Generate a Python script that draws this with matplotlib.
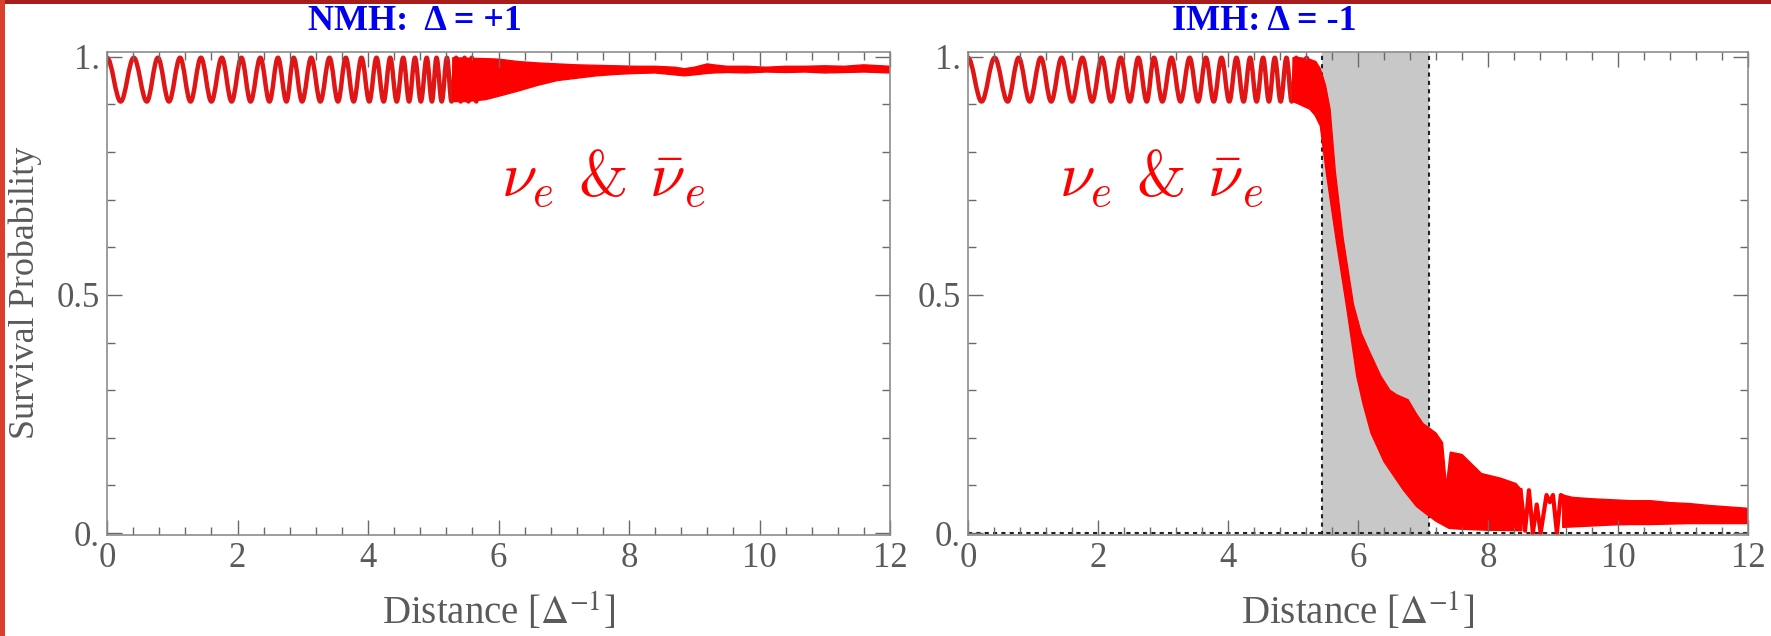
import numpy as np
import matplotlib.pyplot as plt
from matplotlib.patches import Rectangle, PathPatch
from matplotlib.path import Path
from matplotlib.ticker import MultipleLocator, FixedLocator

plt.rcParams['font.family'] = ['Liberation Serif', 'DejaVu Serif']
plt.rcParams['mathtext.fontset'] = 'stix'

# %% data
# oscillation extrema (same in both panels)
peak_x = [0.00, 0.41, 0.78, 1.12, 1.44, 1.76, 2.06, 2.35, 2.62, 2.86, 3.13, 3.41,
          3.66, 3.90, 4.13, 4.34, 4.54, 4.72, 4.90, 5.05, 5.21, 5.35, 5.48, 5.59]
trough_x = [0.21, 0.61, 0.95, 1.28, 1.60, 1.91, 2.20, 2.49, 2.75, 2.99, 3.27, 3.54,
            3.78, 4.02, 4.24, 4.44, 4.63, 4.81, 4.98, 5.13, 5.28, 5.42, 5.54, 5.66]
peak_y = 0.998
trough_y = 0.906

# NMH: noisy band after the oscillations
nmh_x = [5.3, 5.5, 5.8, 6.0, 6.3, 6.6, 6.9, 7.2, 7.5, 7.8, 8.1, 8.4, 8.7, 8.85,
         9.0, 9.2, 9.3, 9.5, 9.8, 10.1, 10.4, 10.7, 11.0, 11.3, 11.6, 12.0]
nmh_hi = [0.998, 0.997, 0.996, 0.995, 0.99, 0.987, 0.985, 0.983, 0.982, 0.981, 0.98,
          0.98, 0.978, 0.975, 0.978, 0.985, 0.983, 0.98, 0.98, 0.978, 0.98, 0.98, 0.981,
          0.98, 0.983, 0.98]
nmh_lo = [0.906, 0.906, 0.91, 0.917, 0.928, 0.94, 0.95, 0.955, 0.96, 0.963, 0.965,
          0.966, 0.962, 0.96, 0.962, 0.965, 0.966, 0.967, 0.966, 0.968, 0.967, 0.968, 0.966,
          0.967, 0.968, 0.966]

# IMH: drop, upper and lower edges of the red band
imh_hi_x = [5.0, 5.1, 5.25, 5.35, 5.42, 5.5, 5.57, 5.65, 5.77, 5.93, 6.05, 6.18, 6.35, 6.49,
            6.6, 6.77, 6.9, 7.0, 7.2, 7.3, 7.36, 7.42, 7.6, 7.9, 8.2, 8.43, 8.52]
imh_hi_y = [0.998, 0.998, 0.995, 0.99, 0.975, 0.94, 0.89, 0.76, 0.62, 0.48, 0.42, 0.38, 0.33,
            0.30, 0.29, 0.28, 0.25, 0.23, 0.21, 0.19, 0.10, 0.17, 0.165, 0.125, 0.115, 0.104,
            0.09]
imh_lo_x = [5.0, 5.1, 5.26, 5.34, 5.42, 5.52, 5.67, 5.83, 5.98, 6.08, 6.2, 6.4, 6.7, 6.9,
            7.05, 7.2, 7.4, 7.6, 8.0, 8.52]
imh_lo_y = [0.906, 0.90, 0.89, 0.877, 0.855, 0.75, 0.61, 0.47, 0.33, 0.27, 0.21, 0.15, 0.09,
            0.056, 0.04, 0.025, 0.01, 0.008, 0.006, 0.005]
# separate wiggles between 8.5 and 9.2
wig_x = [8.50, 8.57, 8.63, 8.69, 8.75, 8.81, 8.90, 8.95, 9.00, 9.06, 9.12, 9.18]
wig_y = [0.09, 0.005, 0.09, 0.0, 0.06, 0.0, 0.08, 0.065, 0.08, 0.0, 0.08, 0.075]
# tail
tail_x = [9.15, 9.3, 9.6, 9.9, 10.2, 10.5, 10.8, 11.1, 11.4, 11.7, 12.0]
tail_hi = [0.08, 0.075, 0.072, 0.07, 0.068, 0.068, 0.064, 0.062, 0.058, 0.055, 0.052]
tail_lo = [0.012, 0.013, 0.015, 0.017, 0.018, 0.018, 0.019, 0.02, 0.02, 0.02, 0.02]

shade = (5.44, 7.09)

red = '#ff0000'
osc_red = '#e01616'
gray_txt = '#5a5a5a'

# %%
ext_x, ext_y = [], []
for p, t in zip(peak_x, trough_x):
    ext_x += [p, t]
    ext_y += [peak_y, trough_y]


def osc_patch(ax, xmax):
    # smooth half-cycles between the read extrema (cubic bezier segments)
    xs = [x for x in ext_x if x <= xmax]
    ys = ext_y[:len(xs)]
    verts = [(xs[0], ys[0])]
    codes = [Path.MOVETO]
    for i in range(len(xs) - 1):
        d = 0.3642 * (xs[i + 1] - xs[i])
        verts += [(xs[i] + d, ys[i]), (xs[i + 1] - d, ys[i + 1]), (xs[i + 1], ys[i + 1])]
        codes += [Path.CURVE4] * 3
    ax.add_patch(PathPatch(Path(verts, codes), fill=False, ec=osc_red, lw=3.2,
                           joinstyle='round', capstyle='round'))


def style_axis(ax):
    ax.set_xlim(0, 12)
    ax.set_ylim(-0.004, 1.01)
    ax.xaxis.set_major_locator(MultipleLocator(2))
    ax.xaxis.set_minor_locator(MultipleLocator(0.4))
    ax.yaxis.set_major_locator(FixedLocator([0, 0.5, 1]))
    ax.yaxis.set_minor_locator(MultipleLocator(0.1))
    ax.set_yticklabels(['0.', '0.5', '1.'])
    ax.tick_params(which='both', direction='in', top=True, right=True,
                   colors='#6a6a6a', labelcolor=gray_txt, labelsize=25, width=1.0)
    ax.tick_params(which='major', length=11, pad=5)
    ax.tick_params(which='minor', length=5.5)
    for s in ax.spines.values():
        s.set_color('#8c8c8c')
        s.set_linewidth(1.2)
    ax.set_xlabel(r'Distance [$\Delta^{-1}$]', fontsize=28, color=gray_txt, labelpad=12)


nu_label = r'$\nu_e$ & $\bar{\nu}_e$'

fig = plt.figure(figsize=(17.71, 6.36), dpi=100)
axL = fig.add_axes([107/1771, 101/636, 783/1771, 483/636])
axR = fig.add_axes([968/1771, 101/636, 780/1771, 483/636])

# left panel
osc_patch(axL, 5.7)
axL.fill(np.r_[nmh_x, nmh_x[::-1]], np.r_[nmh_hi, nmh_lo[::-1]], color=red, lw=1)
style_axis(axL)
axL.text(0.503, 0.70, nu_label, transform=axL.transAxes, family='cmr10',
         fontsize=46, color=red, math_fontfamily='cm', va='baseline', ha='left')

# right panel
axR.axvspan(*shade, color='#c8c8c8', lw=0, zorder=0)
for xv in shade:
    axR.axvline(xv, color='#222222', lw=1.5, ls=(0, (2, 2)), zorder=1)
axR.axhline(0, color='#222222', lw=1.5, ls=(0, (2, 2)), zorder=1)
osc_patch(axR, 5.3)
axR.fill(np.r_[imh_hi_x, imh_lo_x[::-1]], np.r_[imh_hi_y, imh_lo_y[::-1]], color=red, lw=1)
axR.plot(wig_x, wig_y, color=red, lw=3)
axR.fill(np.r_[tail_x, tail_x[::-1]], np.r_[tail_hi, tail_lo[::-1]], color=red, lw=1)
style_axis(axR)
axR.text(0.117, 0.70, nu_label, transform=axR.transAxes, family='cmr10',
         fontsize=46, color=red, math_fontfamily='cm', va='baseline', ha='left')

# titles and y label
fig.text(415/1771, 1 - 22/636, u'NMH:  \u0394 = +1', color='#0000ee', fontsize=26,
         fontweight='bold', ha='center', va='center')
fig.text(1264/1771, 1 - 22/636, u'IMH: \u0394 = -1', color='#0000ee', fontsize=26,
         fontweight='bold', ha='center', va='center')
fig.text(25/1771, 1 - 293/636, 'Survival Probability', rotation=90, fontsize=26,
         color=gray_txt, ha='center', va='center')

# red frame bits
fig.add_artist(Rectangle((0, 1 - 4/636), 1, 4/636, transform=fig.transFigure,
                         color='#a81c1c', lw=0))
fig.add_artist(Rectangle((0, 0), 5/1771, 1, transform=fig.transFigure,
                         color='#d8402e', lw=0))

fig.savefig('out.png', dpi=100)
